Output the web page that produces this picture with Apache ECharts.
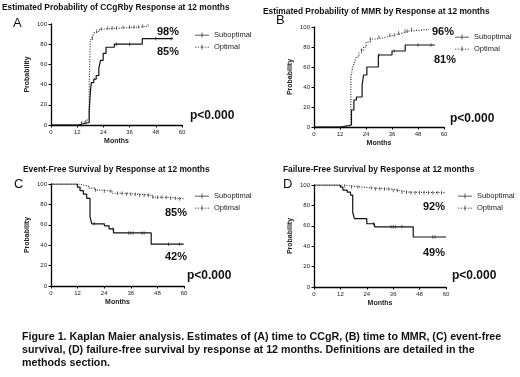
<!DOCTYPE html>
<html>
<head>
<meta charset="utf-8">
<script src="https://cdn.jsdelivr.net/npm/echarts@6/dist/echarts.min.js"></script>
<style>
  html, body { margin: 0; padding: 0; background: #fff; }
  #chart { width: 520px; height: 377px; }
</style>
</head>
<body>
<div id="chart"></div>
<script>
// x ticks / y ticks
var monthTicks = [0, 12, 24, 36, 48, 60];
var probTicks = [0, 20, 40, 60, 80, 100];

// A: time to CCgR  [month, %]
var aSub = [[0,0],[12.5,1.5],[15.2,2.5],[17.5,14],[18.1,35],[18.5,42],[19.6,45.5],[20.7,49],[21.9,56],[22.7,64],[23.9,71],[25.2,77],[29,80],[41.8,85.5],[55.8,85.5]];
var aOpt = [[0,0],[12,1],[14,3],[16,5],[17.5,40],[18,83],[18.5,86],[19.3,89],[20,92],[21,93],[22.3,95],[24.5,96],[32,97],[41,98],[44.5,100]];
// B: time to MMR
var bSub = [[0,0],[12.4,2],[17.3,17],[18.4,27],[19.6,30],[22.2,42],[22.9,52],[24.4,60],[29.7,72],[36,76],[42.1,82],[55.8,82]];
var bOpt = [[0,0],[12.4,1.5],[17,50],[17.9,60],[18.7,65],[19.5,70],[20.7,74],[21.9,77],[22.9,80],[24.1,85],[25.9,88],[29,90],[33.5,92],[37.3,94],[41,96],[44,97.5],[53.1,97.5]];
// C: event-free survival
var cSub = [[0,100],[11.9,97],[13.1,93.5],[14.6,90],[16.1,86],[17.6,68],[18.4,61],[24.1,59],[26.2,56],[28.2,52],[45.2,41],[59.9,41]];
var cOpt = [[0,100],[12.4,99],[14.6,98],[16.9,96],[19.9,94],[22.9,93],[27.5,91],[33.5,90],[39.5,89],[45.6,87],[53.1,86],[57.6,85.5],[59.9,85.5]];
// D: failure-free survival
var dSub = [[0,100],[12,98],[13.1,95],[15.1,93],[16.6,90],[17.6,73],[18.4,67],[24,62],[27.5,59],[45.1,49],[60,49]];
var dOpt = [[0,100],[13.9,99],[16.9,98],[21.4,97],[27.5,96],[35,94.5],[39.5,93],[42.5,92.5],[60,92.5]];

// censored times
var aSubCens = [14, 16, 30, 36, 48, 55];
var aOptCens = [19, 21, 23, 26, 28, 30, 33, 36, 38, 40, 42];
var bSubCens = [30, 37, 48, 54];
var bOptCens = [22, 26, 30, 35, 37, 39, 42, 43, 45];
var cSubCens = [19.5, 28, 35, 36, 37, 41, 42, 53, 58];
var cOptCens = [20, 24, 27, 30, 32, 34, 36, 38, 40, 42, 44, 46, 48, 50, 52, 54, 56, 58];
var dSubCens = [27, 35, 36, 37, 40, 54, 55];
var dOptCens = [14, 17, 20, 26, 28, 30, 32, 34, 36, 38, 40, 42, 44, 46, 48, 50, 52, 54, 56, 58];

var panelTitles = [
  "Estimated Probability of CCgRby Response at 12 months",
  "Estimated Probability of MMR by Response at 12 months",
  "Event-Free Survival by Response at 12 months",
  "Failure-Free Survival by Response at 12 months"
];
var panelLetters = ["A", "B", "C", "D"];
var subLabels = ["85%", "81%", "42%", "49%"];
var optLabels = ["98%", "96%", "85%", "92%"];
var pLabel = "p<0.000";
var caption = [
  "Figure 1. Kaplan Maier analysis. Estimates of (A) time to CCgR, (B) time to MMR, (C) event-free",
  "survival, (D) failure-free survival by response at 12 months. Definitions are detailed in the",
  "methods section."
];

// value of a step curve at time t
function stepAt(curve, t) {
  var v = curve[0][1];
  for (var i = 0; i < curve.length; i++) {
    if (curve[i][0] <= t) v = curve[i][1];
  }
  return v;
}

var chart = echarts.init(document.getElementById("chart"));

var grids = [
  { left: 51, top: 24, width: 131, height: 101 },
  { left: 314, top: 27, width: 130, height: 100 },
  { left: 51, top: 184, width: 133, height: 102 },
  { left: 314, top: 185, width: 132, height: 102 }
];
var curves = [[aSub, aOpt], [bSub, bOpt], [cSub, cOpt], [dSub, dOpt]];
var cens = [[aSubCens, aOptCens], [bSubCens, bOptCens], [cSubCens, cOptCens], [dSubCens, dOptCens]];

// legend icons: solid line with tick, dotted line with tick
var solidIcon = "path://M0,4.6h20v1h-20z M9.5,1.5h1v7h-1z";
var dottedIcon = "path://M0,4.6h2v1h-2z M4,4.6h2v1h-2z M8,4.6h4v1h-4z M14,4.6h2v1h-2z M18,4.6h2v1h-2z M9.5,1.5h1v7h-1z";

var xAxes = [], yAxes = [], series = [], legends = [];
var legendPos = [
  { left: 190, top: 26 },
  { left: 450, top: 28 },
  { left: 190, top: 187 },
  { left: 453, top: 187 }
];
var font = "Liberation Sans";

grids.forEach(function (g, i) {
  xAxes.push({
    type: "value", gridIndex: i, min: 0, max: 60, interval: 12,
    name: "Months", nameLocation: "middle", nameGap: 13,
    nameTextStyle: { fontSize: 7, fontWeight: "bold", color: "#222", fontFamily: font },
    axisLine: { lineStyle: { color: "#000", width: 1.3 } },
    axisTick: { length: 2.5, lineStyle: { color: "#000" } },
    axisLabel: { fontSize: 6, color: "#222", margin: 4, fontFamily: font,
      formatter: function (v) { return monthTicks.indexOf(v) >= 0 ? v : ""; } },
    splitLine: { show: false }
  });
  yAxes.push({
    type: "value", gridIndex: i, min: 0, max: 100, interval: 20,
    name: "Probability", nameLocation: "middle", nameGap: 20,
    nameTextStyle: { fontSize: 7, fontWeight: "bold", color: "#222", fontFamily: font },
    axisLine: { show: true, lineStyle: { color: "#000", width: 1.3 } },
    axisTick: { show: true, length: 2.5, lineStyle: { color: "#000" } },
    axisLabel: { fontSize: 6, color: "#222", margin: 4, fontFamily: font,
      formatter: function (v) { return probTicks.indexOf(v) >= 0 ? v : ""; } },
    splitLine: { show: false }
  });
  series.push({
    name: "Suboptimal", type: "line", step: "end", xAxisIndex: i, yAxisIndex: i,
    data: curves[i][0], symbol: "none", silent: true,
    lineStyle: { color: "#111", width: 1.2 }, itemStyle: { color: "#111" }
  });
  series.push({
    name: "Optimal", type: "line", step: "end", xAxisIndex: i, yAxisIndex: i,
    data: curves[i][1], symbol: "none", silent: true,
    lineStyle: { color: "#222", width: 1.1, type: [1, 1.5] }, itemStyle: { color: "#222" }
  });
  [0, 1].forEach(function (k) {
    series.push({
      name: "censor" + i + k, type: "scatter", xAxisIndex: i, yAxisIndex: i,
      symbol: "rect", symbolSize: [0.8, 3.5], silent: true,
      itemStyle: { color: "#222" },
      data: cens[i][k].map(function (t) { return [t, stepAt(curves[i][k], t)]; })
    });
  });
  legends.push({
    orient: "vertical", left: legendPos[i].left, top: legendPos[i].top,
    itemWidth: 14, itemHeight: 7, itemGap: 4, selectedMode: false,
    textStyle: { fontSize: 7.5, color: "#222", fontFamily: font },
    itemStyle: { color: "#222", borderWidth: 0 },
    data: [
      { name: "Suboptimal", icon: solidIcon },
      { name: "Optimal", icon: dottedIcon }
    ]
  });
});

function txt(x, y, s, size, weight, extra) {
  var st = { text: s, font: (weight || "normal") + " " + size + "px '" + font + "'", fill: "#111" };
  if (extra) for (var k in extra) st[k] = extra[k];
  return { type: "text", left: x, top: y, style: st, silent: true };
}

var graphics = [
  txt(2, 4, panelTitles[0], 8.4, "bold"),
  txt(263, 8, panelTitles[1], 8.4, "bold"),
  txt(23, 166, panelTitles[2], 8.4, "bold"),
  txt(283, 166, panelTitles[3], 8.4, "bold"),
  txt(13, 17, panelLetters[0], 13),
  txt(276, 14, panelLetters[1], 13),
  txt(14, 178, panelLetters[2], 13),
  txt(283, 178, panelLetters[3], 13),
  txt(157, 26, optLabels[0], 11, "bold"),
  txt(157, 46, subLabels[0], 11, "bold"),
  txt(432, 26, optLabels[1], 11, "bold"),
  txt(434, 54, subLabels[1], 11, "bold"),
  txt(165, 207, optLabels[2], 11, "bold"),
  txt(165, 251, subLabels[2], 11, "bold"),
  txt(423, 201, optLabels[3], 11, "bold"),
  txt(423, 247, subLabels[3], 11, "bold"),
  txt(190, 110, pLabel, 12, "bold"),
  txt(450, 113, pLabel, 12, "bold"),
  txt(187, 270, pLabel, 12, "bold"),
  txt(452, 270, pLabel, 12, "bold"),
  txt(22, 332, caption[0], 10.7, "bold"),
  txt(22, 345, caption[1], 10.7, "bold"),
  txt(22, 358, caption[2], 10.7, "bold")
];

chart.setOption({
  backgroundColor: "#fff",
  animation: false,
  grid: grids,
  xAxis: xAxes,
  yAxis: yAxes,
  legend: legends,
  series: series,
  graphic: graphics
});
</script>
</body>
</html>
